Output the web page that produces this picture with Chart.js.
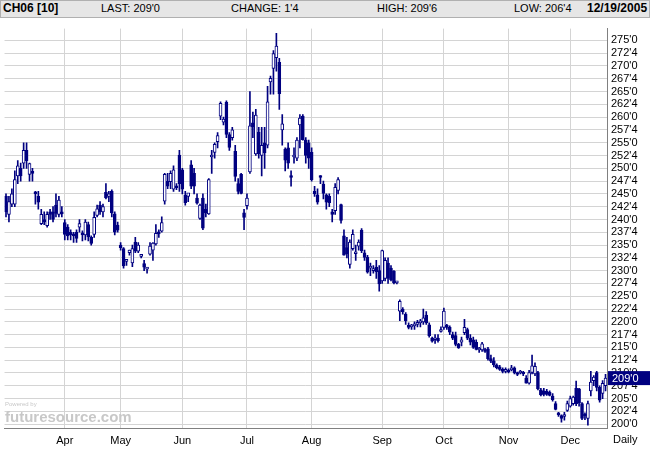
<!DOCTYPE html>
<html>
<head>
<meta charset="utf-8">
<script src="https://cdn.jsdelivr.net/npm/chart.js@4/dist/chart.umd.min.js"></script>
<style>
  body { margin: 0; background: #fff; font-family: "Liberation Sans", Arial, sans-serif; }
  #wrap { position: relative; width: 650px; height: 450px; }
  #head { position: absolute; left: 0; top: 0; width: 648px; height: 16px; background: #e6e6e6;
          border: 1px solid #b0b0b0; font-size: 11px; color: #000; }
  #head span { position: absolute; top: 1px; white-space: nowrap; }
  #box { position: absolute; left: 0; top: 18px; width: 650px; height: 432px; }
  #daily { position: absolute; left: 613px; top: 433px; font-size: 11px; }
  #mark { position: absolute; left: 5px; top: 408px; color: #c8c8c8; font-size: 15px; font-weight: bold; }
  #mark small { position: absolute; top: -7px; left: 0; font-size: 6px; font-weight: normal; }
</style>
</head>
<body>
<div id="wrap">
  <div id="head">
    <span style="left:2px;font-size:12px;font-weight:bold;top:0">CH06 [10]</span>
    <span style="left:100px">LAST: 209'0</span>
    <span style="left:230px">CHANGE: 1'4</span>
    <span style="left:376px">HIGH: 209'6</span>
    <span style="left:513px">LOW: 206'4</span>
    <span style="left:586px;font-size:12px;font-weight:bold;top:0">12/19/2005</span>
  </div>
  <div id="box"><canvas id="c" width="650" height="432"></canvas></div>
  <div id="mark"><small>Powered by</small>futuresource.com</div>
  <div id="daily">Daily</div>
</div>
<script>
const open = [244.5,241,243,243,248.5,250,251,253.5,248.8,249.2,245.3,244.5,239.2,240,238.8,241.5,241.5,242.8,241,241.3,
  239.4,238.5,237.5,237.2,237.5,238.5,237.3,237,239,236.5,237.1,240.8,242.8,241.5,245.3,244.5,245.5,241.1,238.9,
  235,234.3,231.8,233.5,231.5,235.6,233.8,232.8,231.4,230.3,233.2,234,235.2,237.5,237.7,243.6,247.5,247.4,245.9,246.5,252.6,
  249.7,244.7,244.5,250.7,249,244.2,240.2,244.2,242,241.1,252.2,253.1,255.2,260.2,259,262.9,256.6,256,253.3,247,248.8,241.3,
  242.7,249.3,258.9,252.8,257.1,252.5,255,254.5,266.9,269.5,271.6,270.7,257.5,253.7,254,248.3,252.2,252,258.5,260.2,255.5,255,
  253.1,245.5,244.8,248.4,246.9,244.8,244.5,241.5,241.7,245.7,242.9,236.8,234.5,231.2,234.3,233.3,234.8,237.9,233.5,232.6,230.5,230,230.7,230,
  228,228.5,231.5,230.5,229.9,227.6,222.1,222.5,221.5,219.2,219,219.2,219.5,219.8,220,221.3,219.4,216.8,216.5,216.8,218.1,
  218.9,219.2,218.9,217.5,217.3,215.6,216,217.9,218.5,216.8,216.5,216,214.5,214.5,214.5,214.7,212.8,212.4,211.5,211.2,210.7,210.3,
  210.5,210.6,211,209.9,210,209.9,209,208,210.1,209.8,210.1,206.7,206.5,206.4,206.2,205.5,204,202.1,201.7,201.5,202.7,
  203.5,204,207,206.9,204,201.8,201.1,206.5,208.5,210.1,207.2,206,207.5];
const high = [245,244.5,246,249.5,251.5,251,255,255,251,250,245.5,245.5,242,241.5,241.5,242,242.5,245,244.5,242.5,
  240,239,238,237.5,238,240,237.8,240,239.5,236.8,241.5,242.8,243.5,243,247,245.5,245.8,241.5,239.5,
  235.5,234.5,232,234,235,236.5,235.5,233,232,230.5,235.5,235.5,239,238,240.5,249,249,249.5,250.5,247,253.5,
  250,245.5,245,251.5,250,245,243,245,243,248,253.5,255,257,263,260,263.2,257,258,254.5,248,249,242,
  245,265,261,261.5,258,258,258,266,268,273,276.4,271.5,260.5,254,255,249.5,254,256,260.5,260.5,256,255.5,
  254,246.5,246,248.6,247.5,245,245,242,247,248.2,243,238,236.5,236,238,235,236,238.2,234,233,231.5,231,232,231,
  234,232.5,232.5,231,230,227.8,224.3,222.8,221.8,219.8,219.5,220,220.3,220.5,222.5,222,219.8,217,217.5,217.5,219,
  222.7,219.5,219.2,218,218,215.8,217,220.5,218.8,217.5,217,216.5,215,216,214.8,215,213.5,213,211.8,211.5,211,211,
  210.8,211.5,211.2,210.2,210.5,210.3,209.5,210.5,213.5,212,210.3,207,207,206.8,206.5,206,204.4,202.3,201.8,202.3,204.5,
  205.5,205.5,208.4,207,204.2,202.2,204.5,210.3,209.5,210.3,207.5,208.5,209.75];
const low = [240.5,239.5,242.5,242.5,247,247.5,250,250,247.5,247.5,243,242,239,239,238.5,240,239.5,240.5,240.5,240.5,
  236,236,236,235.5,235.5,237.5,235.8,236,235.8,235,236.5,240.5,241,240.5,244,243.5,240.5,237,237.5,
  234,230.5,231,233,230.8,233.5,233.5,232.5,230,229.5,233,232,235,236.5,237.5,243,246,246,245.5,245.8,245.5,
  245,242.8,243.5,246,245,243,240,238,240.5,241,249,252,254,259.5,258.5,256,253.5,255.5,247.5,245,245,238,
  242,249,256,252.5,252,248.5,250,254,264.5,264.5,269,261.5,254.5,249.5,250,246.5,251,251.5,254,255.5,251,250,
  247.5,244.5,243,247,244,242,242.5,239.5,241,245,239.3,233,232.5,230.5,234,232,234,233.5,232,229.5,229,229.5,228.5,226,
  227.5,228,227.5,228,227.4,227.4,220.2,221.5,219.5,218.6,218.5,218.5,219,219,219.5,219.5,217,216,215.8,216,218,
  218.5,218.5,217.5,216.5,215.3,214.8,215.3,217.5,216.5,215.5,214.8,214.5,214,214.2,214,212.5,212,211.2,210.8,210.5,210,210,
  210,210.4,209.8,209.5,209.8,209.5,208,207.8,209.8,209.5,206.7,205.5,205.5,205.6,205.5,204.5,202.8,201.5,200.4,200.8,202.5,
  203.3,203.7,203.6,203.5,200.9,200.9,199.8,205.5,207.5,206.5,204.3,205,206.5];
const close = [241.5,243.5,245,247.8,250.5,248.5,253.5,251.5,250.9,249,245,243.4,241,239.5,241,241,240,241.2,243.8,241.1,
  237.1,236.8,237,236.8,236.3,239.2,237,239.5,236.6,235.3,240.4,242.1,241.5,242.5,244.2,245,241.3,237.5,237.9,
  234.5,230.9,231.8,234,234.3,233.8,235,232.8,230.7,230.3,234.8,235.4,237.3,237.2,239.4,248.8,246.5,249,249.7,246.2,247,
  245.9,243.3,245.2,246.5,246.5,243.2,242.8,238.3,241.3,247.8,252.5,254.7,256.4,262.7,259.6,256.6,254.1,257.5,248.4,245.5,245.1,240.4,
  244.2,258.3,258.1,260.4,252.8,254.5,253,263,267.6,272.4,273.9,264.6,258.7,251.6,251,248.2,252.4,255.5,259.8,255.6,252.5,252,
  247.8,245,243.4,248.2,245.1,243.4,243.3,241,246.3,247.8,239.8,233,233.3,235.6,237.1,233.3,235.6,233.9,232.6,229.7,230.5,230,229.8,227.4,
  233.9,232,228.5,228.2,227.6,227.6,224,222,220.2,218.9,219.2,219.5,219.8,220.2,220.8,219.8,217.3,216.2,216.5,216.3,218.3,
  222.1,218.9,218,216.8,215.6,214.9,216.5,218.9,216.8,216,215,214.6,214.5,215.7,214.2,212.8,212.3,211.6,211,210.7,210.3,210.6,
  210.2,211,210,209.7,210.3,209.8,208,210.1,211.4,211.3,206.9,205.7,205.8,205.8,205.6,204.8,202.9,201.8,201.1,201.8,204,
  205,205.3,204,204.2,201.1,201.6,204,208.2,209.2,207.2,204.7,208,209];
const monthLabels = ["Apr","May","Jun","Jul","Aug","Sep","Oct","Nov","Dec"];
const monthStarts = [20,39,60,82,104,128,149,171,192];
const yTicks = { min: 199.25, max: 277.3, step: 2.5 };

const navy = "#000080";
const days = close.map((_, i) => {
  const k = monthStarts.indexOf(i);
  return k >= 0 ? monthLabels[k] : "";
});
const up = close.map((c, i) => c >= open[i]);

function fmt(v) {
  const w = Math.floor(v + 1e-6);
  return w + "'" + Math.round((v - w) * 8);
}

const lastBox = {
  id: "lastBox",
  afterDraw(chart) {
    const y = chart.scales.y.getPixelForValue(close[close.length - 1]);
    const g = chart.ctx;
    g.save();
    g.fillStyle = navy;
    g.fillRect(chart.chartArea.right + 1, y - 7, 44, 14);
    g.fillStyle = "#fff";
    g.font = "11px 'Liberation Sans', Arial";
    g.textBaseline = "middle";
    g.fillText(fmt(close[close.length - 1]), chart.chartArea.right + 5, y + 1);
    g.restore();
  }
};

new Chart(document.getElementById("c"), {
  type: "bar",
  data: {
    labels: days,
    datasets: [
      {
        data: low.map((l, i) => [l, high[i]]),
        backgroundColor: navy,
        borderWidth: 0,
        barThickness: 1,
        grouped: false,
        order: 2,
      },
      {
        data: open.map((o, i) => [o, close[i]]),
        backgroundColor: up.map(u => (u ? "#fff" : navy)),
        borderColor: navy,
        borderWidth: 1,
        borderSkipped: false,
        barThickness: 3,
        minBarLength: 2,
        grouped: false,
        order: 1,
      },
    ],
  },
  options: {
    responsive: false,
    animation: false,
    layout: { padding: { left: 1, top: 0, right: 0, bottom: 0 } },
    plugins: { legend: { display: false }, tooltip: { enabled: false } },
    scales: {
      x: {
        offset: true,
        border: { color: "#808080" },
        grid: {
          offset: false,
          drawTicks: false,
          color: ctx => (ctx.tick && ctx.tick.label ? "#d4d4d4" : "rgba(0,0,0,0)"),
        },
        ticks: {
          autoSkip: false,
          maxRotation: 0,
          padding: 6,
          color: "#000",
          font: { family: "'Liberation Sans', Arial", size: 11 },
        },
        afterFit: s => { s.height = 22; },
      },
      y: {
        position: "right",
        min: yTicks.min,
        max: yTicks.max,
        border: { color: "#808080" },
        grid: { color: "#d4d4d4", drawTicks: false },
        afterBuildTicks: s => {
          const t = [];
          for (let v = 200; v <= 275; v += yTicks.step) t.push({ value: v });
          s.ticks = t;
        },
        ticks: {
          autoSkip: false,
          padding: 4,
          color: "#000",
          font: { family: "'Liberation Sans', Arial", size: 11 },
          callback: v => fmt(v),
        },
        afterFit: s => { s.width = 43; },
      },
    },
  },
  plugins: [lastBox],
});
</script>
</body>
</html>
